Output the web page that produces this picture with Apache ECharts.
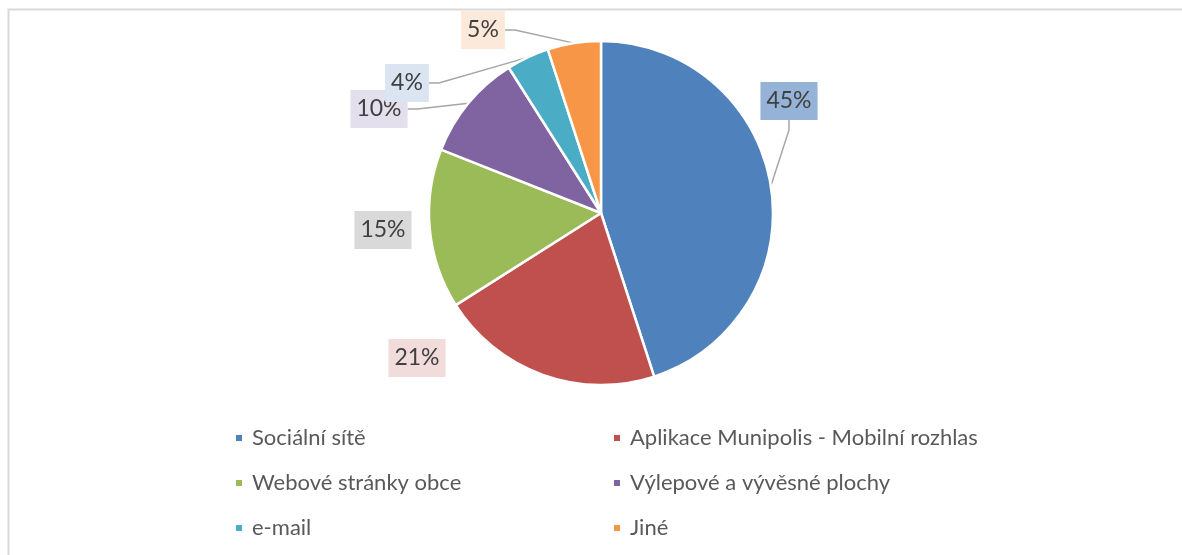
<!DOCTYPE html>
<html>
<head>
<meta charset="utf-8">
<script src="https://cdn.jsdelivr.net/npm/echarts@6/dist/echarts.min.js"></script>
<style>
html, body { margin: 0; padding: 0; background: #fff; }
#chart { width: 1182px; height: 555px; }
</style>
</head>
<body>
<div id="chart"></div>
<script>
// kategorie a podily (%)
var categories = ['Sociální sítě', 'Aplikace Munipolis - Mobilní rozhlas', 'Webové stránky obce',
                  'Výlepové a vývěsné plochy', 'e-mail', 'Jiné'];
var shares = [45, 21, 15, 10, 4, 5];

// barvy vysecu a pozadi popisku
var colors = ['#4F81BD', '#C0504D', '#9BBB59', '#8064A2', '#4BACC6', '#F79646'];
var labelBg = ['#95B3D7', '#F2DCDB', '#D9D9D9', '#E4DFEC', '#DBE5F1', '#FDE9D9'];
// umisteni popisku (stred boxu) a zda ma vodici caru
var labelPos = [[789, 101], [417, 358], [383, 230], [379, 109], [407, 83], [483, 30]];
var showLine = [true, false, false, true, true, true];

var pieData = categories.map(function (name, i) {
    return {
        name: name,
        value: shares[i],
        itemStyle: { color: colors[i] },
        label: { backgroundColor: labelBg[i] },
        labelLine: { show: showLine[i] }
    };
});

var legendText = {
    color: '#595959',
    fontFamily: 'Lato',
    fontSize: 22,
    lineHeight: 24,
    padding: [0, 0, 0, 4]
};

var option = {
    backgroundColor: '#fff',
    animation: false,
    graphic: [{
        type: 'rect',
        shape: { x: 8.5, y: 9.5, width: 1300, height: 700 },
        style: { fill: 'none', stroke: '#d9d9d9', lineWidth: 2 },
        silent: true
    }],
    legend: [{
        left: 234,
        top: 426,
        orient: 'vertical',
        padding: 0,
        itemWidth: 8,
        itemHeight: 8,
        itemGap: 21,
        icon: 'rect',
        selectedMode: false,
        data: [categories[0], categories[2], categories[4]],
        textStyle: legendText
    }, {
        left: 612,
        top: 426,
        orient: 'vertical',
        padding: 0,
        itemWidth: 8,
        itemHeight: 8,
        itemGap: 21,
        icon: 'rect',
        selectedMode: false,
        data: [categories[1], categories[3], categories[5]],
        textStyle: legendText
    }],
    series: [{
        type: 'pie',
        center: [601, 213],
        radius: 172,
        startAngle: 90,
        clockwise: true,
        avoidLabelOverlap: false,
        silent: true,
        itemStyle: { borderColor: '#fff', borderWidth: 2.5 },
        label: {
            show: true,
            position: 'outside',
            formatter: '{c}%',
            fontFamily: 'Lato',
            fontSize: 23,
            lineHeight: 22,
            color: '#404040',
            padding: [8, 6]
        },
        labelLine: {
            length: 10,
            length2: 10,
            lineStyle: { color: '#a6a6a6', width: 1.5 }
        },
        labelLayout: function (p) {
            var pos = labelPos[p.dataIndex];
            return { x: pos[0], y: pos[1], align: 'center', verticalAlign: 'middle' };
        },
        data: pieData
    }]
};

var myChart = echarts.init(document.getElementById('chart'));
myChart.setOption(option);
</script>
</body>
</html>
